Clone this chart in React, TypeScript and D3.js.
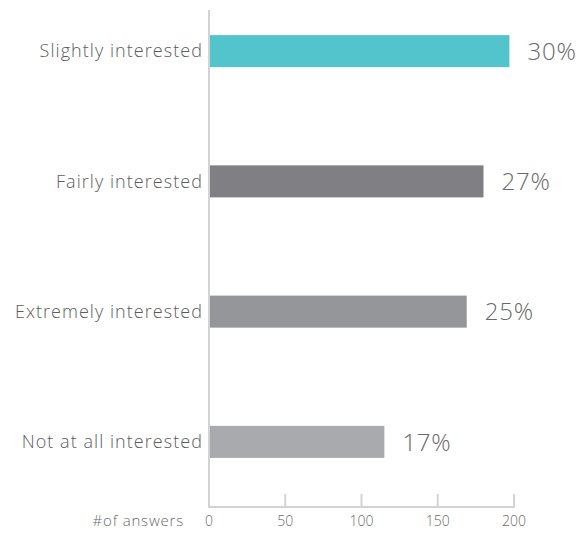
import React from "react";
import * as d3 from "d3";

const categories = ["Slightly interested", "Fairly interested", "Extremely interested", "Not at all interested"];
const values = [197, 180, 169, 115];
const percentLabels = ["30%", "27%", "25%", "17%"];
const colors = ["#54c4cc", "#808084", "#959699", "#a9aaad"];
const xTicks = [0, 50, 100, 150, 200];
const axisTitle = "#of answers";

export default function App() {
  const W = 582, H = 533;
  const left = 209, right = 514;
  const x = d3.scaleLinear().domain([0, 200]).range([left, right]);
  const y = d3.scaleBand().domain(categories).range([-14, 507]).paddingInner(0.754).paddingOuter(0.377);
  const baseY = 507;
  const font = "'Open Sans', sans-serif";
  return (
    <svg width={W} height={H} style={{ position: "absolute", left: 0, top: 0 }}>
      <rect width={W} height={H} fill="#fff" />
      {categories.map((c, i) => {
        const yy = y(c)!;
        const bh = y.bandwidth();
        return (
          <g key={c}>
            <rect x={x(0)} y={yy} width={x(values[i]) - x(0)} height={bh} fill={colors[i]} />
            <text x={203} y={yy + bh / 2} dy="0.35em" textAnchor="end" fontSize={18} fontWeight={300} letterSpacing={1.05} fill="#5c5c5c" fontFamily={font}>{c}</text>
            <text x={x(values[i]) + 18} y={yy + bh / 2} dy="0.36em" textAnchor="start" fontSize={24} fontWeight={300} letterSpacing={0.8} fill="#6a6a6a" fontFamily={font}>{percentLabels[i]}</text>
          </g>
        );
      })}
      <line x1={left} x2={left} y1={10} y2={baseY} stroke="#d3d3d3" strokeWidth={2} />
      <line x1={left - 1} x2={right + 1} y1={baseY} y2={baseY} stroke="#d3d3d3" strokeWidth={2} />
      {xTicks.map(t => (
        <g key={t}>
          <line x1={x(t)} x2={x(t)} y1={494} y2={baseY} stroke="#d3d3d3" strokeWidth={2} />
          <text x={x(t)} y={521} dy="0.35em" textAnchor="middle" fontSize={14} fontWeight={300} fill="#6a6a6a" fontFamily={font}>{t}</text>
        </g>
      ))}
      <text x={184} y={521} dy="0.35em" textAnchor="end" fontSize={15} fontWeight={300} letterSpacing={0.8} fill="#6a6a6a" fontFamily={font}>{axisTitle}</text>
    </svg>
  );
}
